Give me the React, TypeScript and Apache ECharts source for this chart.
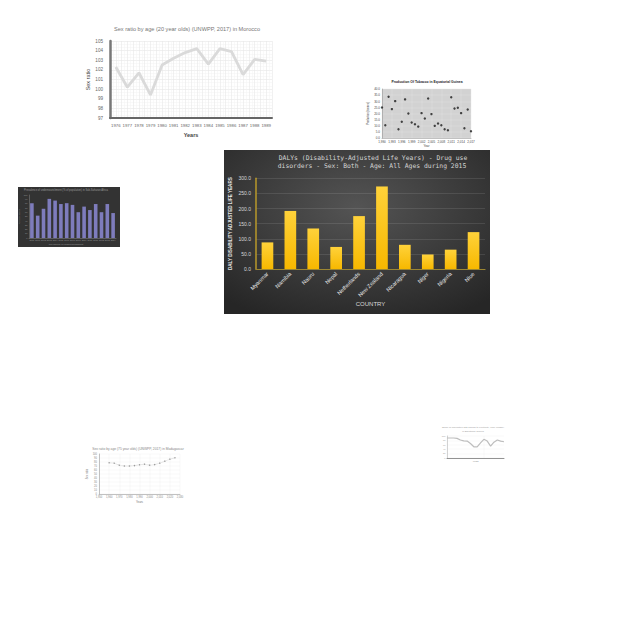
import React, { useEffect, useRef } from 'react';
import * as echarts from 'echarts';

// Main DALY chart
const countries = ['Myanmar', 'Namibia', 'Nauru', 'Nepal', 'Netherlands', 'New Zealand', 'Nicaragua', 'Niger', 'Nigeria', 'Niue'];
const dalys = [88, 192, 134, 73, 175, 273, 80, 48, 64, 122];

// Morocco sex ratio chart
const moroccoYears = [1976, 1977, 1978, 1979, 1980, 1981, 1982, 1983, 1984, 1985, 1986, 1987, 1988, 1989];
const moroccoRatio = [102.3, 100.2, 101.7, 99.4, 102.5, 103.2, 103.8, 104.2, 102.6, 104.2, 103.9, 101.5, 103.1, 102.9];

// Tobacco scatter chart
const tobaccoYears = [1990, 1991, 1992, 1993, 1994, 1995, 1996, 1997, 1998, 1999, 2000, 2001, 2002, 2003, 2004, 2005, 2006, 2007, 2008, 2009, 2010, 2011, 2012, 2013, 2014, 2015, 2016, 2017];
const tobaccoValues = [24.9, 10.4, 33.7, 23.6, 30.1, 7.1, 13.2, 31.5, 20.0, 12.6, 11.2, 9.3, 20.3, 15.9, 32.3, 19.5, 9.9, 11.8, 10.4, 7.1, 6.3, 33.2, 24.1, 24.7, 20.3, 7.9, 23.3, 5.5];

// Small dark bar chart
const darkCats = ['2000', '2001', '2002', '2003', '2004', '2005', '2006', '2007', '2008', '2009', '2010', '2011', '2012', '2013', '2014'];
const darkValues = [81, 52, 68, 91, 87, 79, 81, 77, 60, 73, 65, 79, 60, 79, 58];

// Bottom-left sex ratio chart
const madYears = [1960, 1965, 1970, 1975, 1980, 1985, 1990, 1995, 2000, 2005, 2010, 2015, 2020, 2025];
const madValues = [78, 77, 72, 70, 70, 71, 73, 74.5, 72, 73.5, 77, 82, 87, 90.5];

// Bottom-right line chart
const rightCats = ['2000', '2001', '2002', '2003', '2004', '2005', '2006', '2007', '2008', '2009', '2010', '2011', '2012', '2013', '2014', '2015', '2016', '2017'];
const rightValues = [91, 91, 91, 89, 82, 78, 77, 66, 51, 51, 69, 85, 77, 54, 72, 82, 77, 74];

const SANS = 'Liberation Sans, Arial, sans-serif';

function txt(x: number, y: number, text: string, size: number, color: string, extra: any = {}) {
  return {
    type: 'text',
    x,
    y,
    z: 50,
    style: {
      text,
      fill: color,
      font: `${extra.weight || 'normal'} ${size}px ${extra.family || SANS}`,
      textAlign: extra.align || 'center',
      textVerticalAlign: 'middle',
      align: extra.align || 'center',
      verticalAlign: 'middle',
    },
    rotation: extra.rotation || 0,
  };
}

export default function App() {
  const ref = useRef<HTMLDivElement>(null);

  useEffect(() => {
    if (!ref.current) return;
    const chart = echarts.init(ref.current, undefined, { renderer: 'svg' });

    const option: any = {
      animation: false,
      backgroundColor: '#ffffff',
      graphic: [
        {
          type: 'rect',
          z: -10,
          shape: { x: 224, y: 150, width: 266, height: 164 },
          style: {
            fill: new echarts.graphic.RadialGradient(0.5, 0.35, 0.75, [
              { offset: 0, color: '#545454' },
              { offset: 1, color: '#262626' },
            ]),
          },
        },
        {
          type: 'rect',
          z: -10,
          shape: { x: 18, y: 187, width: 102, height: 60 },
          style: { fill: '#333333' },
        },
        txt(373, 157.5, 'DALYs (Disability-Adjusted Life Years) - Drug use', 6.4, '#d4d4d4', { family: 'DejaVu Sans Mono, monospace' }),
        txt(372, 166, 'disorders - Sex: Both - Age: All Ages during 2015', 6.4, '#d4d4d4', { family: 'DejaVu Sans Mono, monospace' }),
        txt(187, 29, 'Sex ratio by age (20 year olds) (UNWPP, 2017) in Morocco', 5.6, '#777777'),
        txt(427, 82, 'Production Of Tobacco in Equatorial Guinea', 3.4, '#222222', { weight: 'bold' }),
        txt(66, 190, 'Prevalence of undernourishment (% of population) in Sub-Saharan Africa', 2.6, '#9a9a9a'),
        txt(66, 244.5, 'Prevalence of undernourishment', 2.4, '#9a9a9a'),
        txt(138, 449, 'Sex ratio by age (75 year olds) (UNWPP, 2017) in Madagascar', 3.3, '#888888'),
        txt(473, 427.5, 'Share of population with access to electricity, rural (UNDP)', 2.4, '#999999'),
        txt(473, 431, 'in Equatorial Guinea', 2.4, '#999999'),
      ],
      grid: [
        { left: 110, right: 368, top: 41, bottom: 522 },
        { left: 382, right: 169, top: 89, bottom: 502, show: true, backgroundColor: '#d2d2d2', borderWidth: 0 },
        { left: 29, right: 524, top: 195, bottom: 402 },
        { left: 256, right: 155, top: 178.3, bottom: 371 },
        { left: 99, right: 460, top: 454, bottom: 146 },
        { left: 447, right: 136, top: 436, bottom: 182 },
      ],
      xAxis: [
        {
          gridIndex: 0,
          type: 'value',
          min: 1975.5,
          max: 1989.5,
          interval: 0.5,
          axisLine: { show: true, lineStyle: { color: '#666666', width: 2 } },
          axisTick: { show: false },
          axisLabel: {
            formatter: (v: number) => (Number.isInteger(v) ? String(v) : ''),
            fontSize: 4.3,
            color: '#666666',
            margin: 5,
            fontFamily: SANS,
          },
          splitLine: { show: true, lineStyle: { color: '#e8e8e8', width: 0.6 } },
          minorTick: { show: false, splitNumber: 2 },
          minorSplitLine: { show: true, lineStyle: { color: '#f2f2f2', width: 0.5 } },
          name: 'Years',
          nameLocation: 'middle',
          nameGap: 13.5,
          nameTextStyle: { fontSize: 5.5, fontWeight: 'bold', color: '#444444', fontFamily: SANS },
        },
        {
          gridIndex: 1,
          type: 'value',
          min: 1990,
          max: 2017,
          interval: 3,
          axisLine: { show: true, lineStyle: { color: '#888888', width: 0.5 } },
          axisTick: { show: false },
          axisLabel: { fontSize: 3, color: '#444444', margin: 2, fontFamily: SANS },
          splitLine: { show: true, lineStyle: { color: '#e2e2e2', width: 0.4 } },
          name: 'Year',
          nameLocation: 'middle',
          nameGap: 5,
          nameTextStyle: { fontSize: 3, color: '#444444', fontFamily: SANS },
        },
        {
          gridIndex: 2,
          type: 'category',
          data: darkCats,
          axisLine: { show: true, lineStyle: { color: '#888888', width: 0.5 } },
          axisTick: { show: false },
          axisLabel: { fontSize: 2.2, color: '#999999', margin: 1.5, interval: 0 },
        },
        {
          gridIndex: 3,
          type: 'category',
          data: countries,
          axisLine: { show: true, lineStyle: { color: '#9c8632', width: 1.2 } },
          axisTick: { show: false },
          axisLabel: { rotate: 45, fontSize: 5.5, color: '#e8e8e8', margin: 4, interval: 0, fontFamily: SANS },
          name: 'COUNTRY',
          nameLocation: 'middle',
          nameGap: 31,
          nameTextStyle: { fontSize: 6, color: '#d9d9d9', fontFamily: SANS },
        },
        {
          gridIndex: 4,
          type: 'value',
          min: 1950,
          max: 2030,
          interval: 10,
          axisLine: { show: true, lineStyle: { color: '#999999', width: 0.6 } },
          axisTick: { show: false },
          axisLabel: { fontSize: 2.6, color: '#888888', margin: 2, fontFamily: SANS },
          splitLine: { show: true, lineStyle: { color: '#eeeeee', width: 0.4 } },
          name: 'Years',
          nameLocation: 'middle',
          nameGap: 5,
          nameTextStyle: { fontSize: 2.8, color: '#777777', fontFamily: SANS },
        },
        {
          gridIndex: 5,
          type: 'category',
          data: rightCats,
          boundaryGap: false,
          axisLine: { show: true, lineStyle: { color: '#777777', width: 0.8 } },
          axisTick: { show: false },
          axisLabel: { show: false },
          splitLine: { show: true, lineStyle: { color: '#f0f0f0', width: 0.4 } },
          name: 'Years',
          nameLocation: 'middle',
          nameGap: 2,
          nameTextStyle: { fontSize: 2.4, color: '#888888', fontFamily: SANS },
        },
      ],
      yAxis: [
        {
          gridIndex: 0,
          type: 'value',
          min: 97,
          max: 105,
          interval: 1,
          axisLine: { show: true, lineStyle: { color: '#777777', width: 2.5 } },
          axisTick: { show: false },
          axisLabel: { fontSize: 4.6, color: '#666666', margin: 7, fontFamily: SANS },
          splitLine: { show: true, lineStyle: { color: '#e6e6e6', width: 0.6 } },
          minorTick: { show: false, splitNumber: 3 },
          minorSplitLine: { show: true, lineStyle: { color: '#f2f2f2', width: 0.5 } },
          name: 'Sex ratio',
          nameLocation: 'middle',
          nameGap: 15,
          nameTextStyle: { fontSize: 5.5, color: '#444444', fontFamily: SANS },
        },
        {
          gridIndex: 1,
          type: 'value',
          min: 0,
          max: 40,
          interval: 5,
          axisLine: { show: true, lineStyle: { color: '#888888', width: 0.5 } },
          axisTick: { show: false },
          axisLabel: { fontSize: 3, color: '#444444', margin: 2, formatter: (v: number) => v.toFixed(1), fontFamily: SANS },
          splitLine: { show: true, lineStyle: { color: '#e2e2e2', width: 0.4 } },
          name: 'Production (tonnes)',
          nameLocation: 'middle',
          nameGap: 10,
          nameTextStyle: { fontSize: 2.6, color: '#444444', fontFamily: SANS },
        },
        {
          gridIndex: 2,
          type: 'value',
          min: 0,
          max: 100,
          interval: 10,
          axisLine: { show: true, lineStyle: { color: '#888888', width: 0.5 } },
          axisTick: { show: false },
          axisLabel: { fontSize: 2.2, color: '#999999', margin: 1.5 },
          splitLine: { show: false },
          name: '% of population',
          nameLocation: 'middle',
          nameGap: 5,
          nameTextStyle: { fontSize: 2.2, color: '#999999' },
        },
        {
          gridIndex: 3,
          type: 'value',
          min: 0,
          max: 300,
          interval: 50,
          axisLine: { show: true, lineStyle: { color: '#b8982a', width: 1.5 } },
          axisTick: { show: false },
          axisLabel: { fontSize: 5, color: '#d9d9d9', margin: 5, formatter: (v: number) => v.toFixed(1), fontFamily: SANS },
          splitLine: { show: true, lineStyle: { color: 'rgba(255,255,255,0.13)', width: 0.8 } },
          name: 'DALY DISABILITY ADJUSTED LIFE YEARS',
          nameLocation: 'middle',
          nameGap: 23.5,
          nameTextStyle: { fontSize: 4.6, fontWeight: 'bold', color: '#e6e6e6', fontFamily: SANS },
        },
        {
          gridIndex: 4,
          type: 'value',
          min: 0,
          max: 100,
          interval: 10,
          axisLine: { show: true, lineStyle: { color: '#999999', width: 0.6 } },
          axisTick: { show: false },
          axisLabel: { fontSize: 2.6, color: '#888888', margin: 2, fontFamily: SANS },
          splitLine: { show: true, lineStyle: { color: '#eeeeee', width: 0.4 } },
          name: 'Sex ratio',
          nameLocation: 'middle',
          nameGap: 6,
          nameTextStyle: { fontSize: 2.6, color: '#777777', fontFamily: SANS },
        },
        {
          gridIndex: 5,
          type: 'value',
          min: 0,
          max: 100,
          interval: 20,
          axisLine: { show: true, lineStyle: { color: '#aaaaaa', width: 0.5 } },
          axisTick: { show: false },
          axisLabel: { fontSize: 2.2, color: '#999999', margin: 1.5, fontFamily: SANS },
          splitLine: { show: true, lineStyle: { color: '#f0f0f0', width: 0.4 } },
        },
      ],
      series: [
        {
          type: 'line',
          xAxisIndex: 0,
          yAxisIndex: 0,
          data: moroccoYears.map((y, i) => [y, moroccoRatio[i]]),
          symbol: 'none',
          lineStyle: { color: '#dadada', width: 2.8 },
        },
        {
          type: 'scatter',
          xAxisIndex: 1,
          yAxisIndex: 1,
          data: tobaccoYears.map((y, i) => [y, tobaccoValues[i]]),
          symbolSize: 2.4,
          itemStyle: { color: '#1a1a1a' },
        },
        {
          type: 'bar',
          xAxisIndex: 2,
          yAxisIndex: 2,
          data: darkValues,
          barWidth: '62%',
          itemStyle: { color: '#7e7cbc' },
        },
        {
          type: 'bar',
          xAxisIndex: 3,
          yAxisIndex: 3,
          data: dalys,
          barWidth: '51%',
          itemStyle: {
            color: new echarts.graphic.LinearGradient(0, 0, 0, 1, [
              { offset: 0, color: '#ffd23a' },
              { offset: 1, color: '#f7b800' },
            ]),
          },
        },
        {
          type: 'line',
          xAxisIndex: 4,
          yAxisIndex: 4,
          data: madYears.map((y, i) => [y, madValues[i]]),
          symbol: 'circle',
          symbolSize: 1.4,
          itemStyle: { color: '#9a9a9a' },
          lineStyle: { color: '#b5b5b5', width: 0.6, type: 'dotted' },
        },
        {
          type: 'line',
          xAxisIndex: 5,
          yAxisIndex: 5,
          data: rightValues,
          symbol: 'none',
          lineStyle: { color: '#bdbdbd', width: 1.2 },
        },
      ],
    };

    chart.setOption(option);
    return () => {
      chart.dispose();
    };
  }, []);

  return (
    <div
      ref={ref}
      style={{ position: 'fixed', left: 0, top: 0, width: 640, height: 640 }}
    />
  );
}
